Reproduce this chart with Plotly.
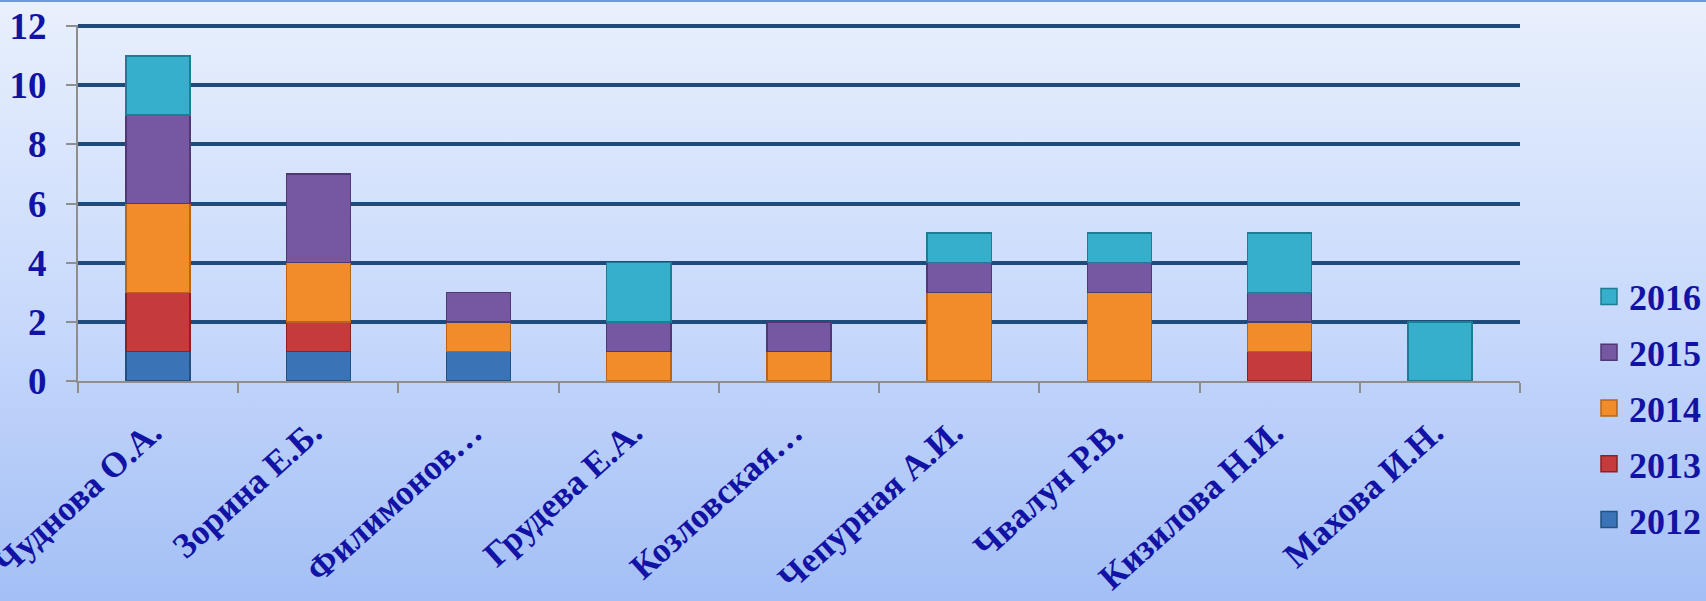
import plotly.graph_objects as go
import urllib.parse

categories = ["Чуднова О.А.", "Зорина Е.Б.", "Филимонов…", "Грудева Е.А.", "Козловская…",
              "Чепурная А.И.", "Чвалун Р.В.", "Кизилова Н.И.", "Махова И.Н."]
years = ["2012", "2013", "2014", "2015", "2016"]
v2012 = [1, 1, 1, 0, 0, 0, 0, 0, 0]
v2013 = [2, 1, 0, 0, 0, 0, 0, 1, 0]
v2014 = [3, 2, 1, 1, 1, 3, 3, 1, 0]
v2015 = [3, 3, 1, 1, 1, 1, 1, 1, 0]
v2016 = [2, 0, 0, 2, 0, 1, 1, 2, 2]
series = [v2012, v2013, v2014, v2015, v2016]
y_ticks = [0, 2, 4, 6, 8, 10, 12]

fills = ["#3b74b6", "#c53b3c", "#f28c2b", "#7657a2", "#35afcb"]
edges = ["#24507f", "#8a2224", "#b8651a", "#4f3873", "#1f7d93"]

W, H = 1706, 601
L, R, T, B = 78, 186, 25, 220
pw, ph = W - L - R, H - T - B

FONT = "Liberation Serif"
TXT = "#1212a4"

fig = go.Figure()
n = len(years)
for i, (name, vals, fc, ec) in enumerate(zip(years, series, fills, edges)):
    rank = n - i
    fig.add_trace(go.Bar(
        x=categories, y=[v if v else None for v in vals], name=name,
        marker=dict(color=fc, line=dict(color=ec, width=1.5)),
        legendgroup=name, showlegend=False, legendrank=rank,
    ))
    fig.add_trace(go.Scatter(
        x=[None], y=[None], mode="markers", name=name, legendgroup=name, legendrank=rank,
        marker=dict(symbol="square", size=20, color=fc, line=dict(color=ec, width=1.5)),
    ))

svg = ('<svg xmlns="http://www.w3.org/2000/svg" width="100" height="100" preserveAspectRatio="none">'
       '<defs><linearGradient id="g" x1="0" y1="0" x2="0" y2="1">'
       '<stop offset="0" stop-color="#e9f0fd"/><stop offset="0.55" stop-color="#c6d8fb"/>'
       '<stop offset="1" stop-color="#a3bff5"/></linearGradient></defs>'
       '<rect width="100" height="100" fill="url(#g)"/></svg>')
src = "data:image/svg+xml;charset=utf-8," + urllib.parse.quote(svg)

fig.update_layout(
    width=W, height=H,
    margin=dict(l=L, r=R, t=T, b=B, autoexpand=False),
    barmode="stack", bargap=0.6,
    paper_bgcolor="#c6d8fb", plot_bgcolor="rgba(0,0,0,0)",
    font=dict(family=FONT, size=36, color=TXT),
    images=[dict(source=src, xref="paper", yref="paper",
                 x=-L / pw, y=1 + T / ph, sizex=W / pw, sizey=H / ph,
                 sizing="stretch", xanchor="left", yanchor="top", layer="below")],
    shapes=[dict(type="line", xref="paper", yref="paper", x0=-L / pw, x1=(W - L) / pw,
                 y0=1 + (T - 1) / ph, y1=1 + (T - 1) / ph,
                 line=dict(color="#6f98d8", width=2))],
    legend=dict(traceorder="grouped", tracegroupgap=6,
                x=(1589 - L) / pw, xanchor="left",
                y=(H - B - 408) / ph, yanchor="middle",
                bgcolor="rgba(0,0,0,0)",
                font=dict(family=FONT, size=36, color=TXT, weight="bold"),
                itemsizing="trace"),
    xaxis=dict(
        type="category", tickangle=-42, automargin=False,
        tickfont=dict(family=FONT, size=35, color=TXT, weight="bold"),
        showline=True, linecolor="#8e8e8e", linewidth=2,
        ticks="outside", tickson="boundaries", ticklen=10, tickcolor="#8e8e8e", tickwidth=2,
        ticklabelstandoff=15, ticklabelshift=-6,
        showgrid=False,
    ),
    yaxis=dict(
        range=[0, 12.04], tickvals=y_ticks, automargin=False,
        tickfont=dict(family=FONT, size=37, color=TXT, weight="bold"),
        showline=True, linecolor="#8e8e8e", linewidth=2,
        ticks="outside", ticklen=10, tickcolor="#8e8e8e", tickwidth=2,
        ticklabelstandoff=12,
        showgrid=True, gridcolor="#1f4b7c", gridwidth=3.5, zeroline=False,
    ),
)

fig.write_html("out.html", config={"displayModeBar": False},
               post_script="document.body.style.margin='0';document.body.style.overflow='hidden';")
